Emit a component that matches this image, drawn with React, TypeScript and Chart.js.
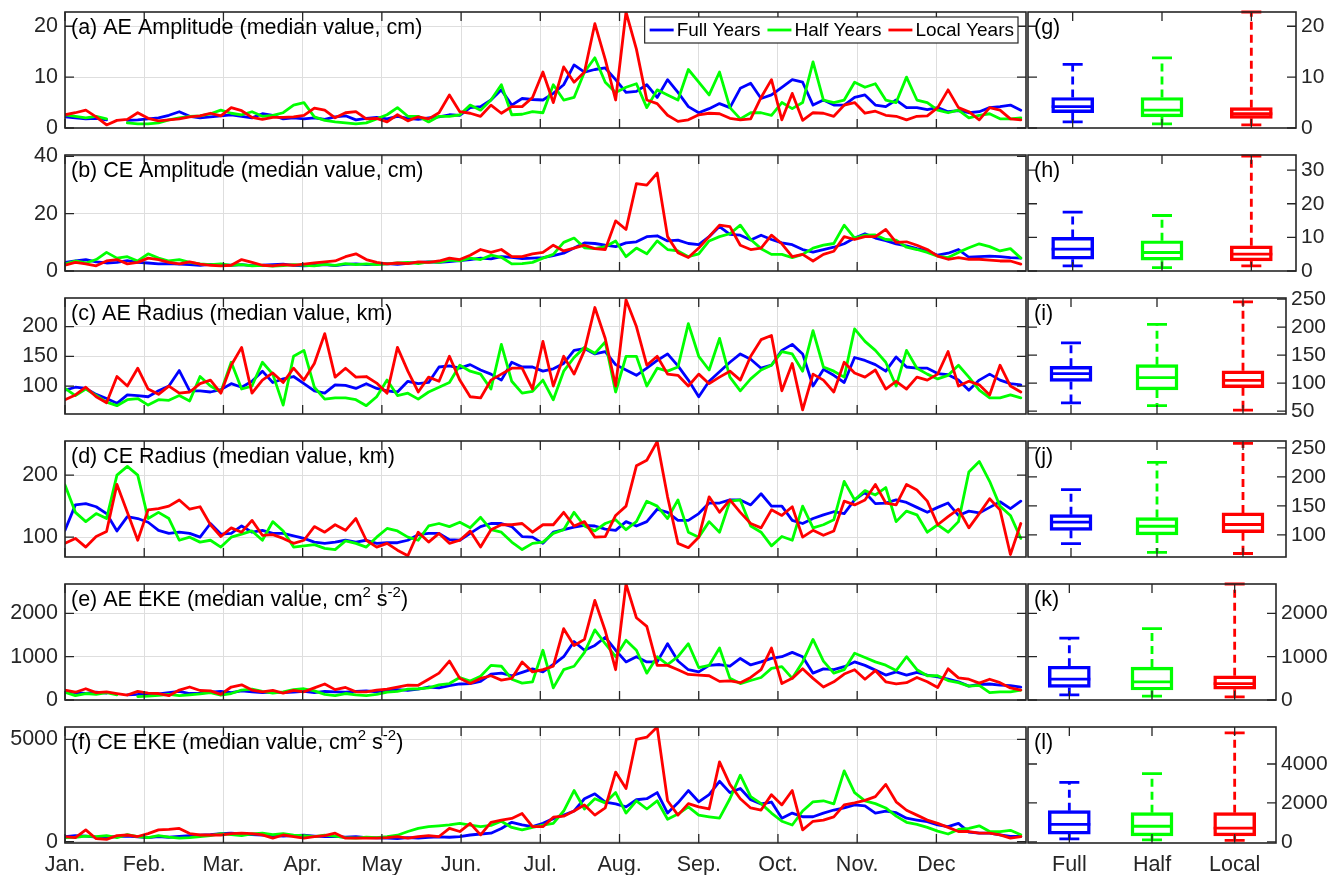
import React, { useEffect, useRef } from 'react';
import { Chart, registerables } from 'chart.js';

Chart.register(...registerables);

const FONT = '"Liberation Sans", Arial, Helvetica, sans-serif';
const BLUE = '#0000ff';
const GREEN = '#00ff00';
const RED = '#ff0000';
const AXIS = '#262626';
const GRID = '#dedede';
const TEXT_SIZE = 21.5;

// ---- time axis ----
const monthLabels = ['Jan.', 'Feb.', 'Mar.', 'Apr.', 'May', 'Jun.', 'Jul.', 'Aug.', 'Sep.', 'Oct.', 'Nov.', 'Dec'];
const monthTicks = [0, 30.5, 61, 91.5, 122, 152.5, 183, 213.5, 244, 274.5, 305, 335.5];
// one sample every 4 days
const sampleDays = Array.from({ length: 93 }, (_, i) => i * 4);

// ---- (a) AE amplitude, cm ----
const aeAmpFull = [2.2, 2.0, 1.8, 1.9, 1.6, null, 1.5, 1.6, 1.8, 2.0, 2.5, 3.2, 2.3, 2.0, 2.2, 2.4, 2.6, 2.3, 2.0, 2.8, 2.5, 1.8, 2.0, 1.8, 2.0, 1.7, 2.2, 2.4, 1.6, 1.9, 2.1, 1.8, 2.3, 1.9, 1.7, 2.0, 2.2, 2.6, 2.5, 4.0, 4.2, 5.5, 7.5, 4.5, 5.8, 5.6, 5.5, 6.8, 8.5, 12.4, 11.0, 11.5, 11.8, 9.5, 7.0, 7.2, 8.5, 6.0, 9.5, 7.0, 4.2, 3.0, 3.8, 4.8, 4.0, 7.8, 8.8, 5.8, 6.5, 8.0, 9.5, 9.0, 4.5, 5.5, 4.5, 4.5, 6.0, 6.5, 4.5, 4.2, 5.5, 4.0, 4.0, 3.6, 4.0, 3.2, 3.4, 3.0, 3.2, 4.0, 4.2, 4.5, 3.5];
const aeAmpHalf = [2.6, 2.3, 2.0, 2.3, 1.8, null, 1.0, 0.8, 0.8, 1.0, 1.6, 2.0, 2.3, 2.4, 2.8, 3.5, 2.9, 2.6, 3.2, 2.3, 2.5, 3.0, 4.5, 5.0, 2.2, 1.5, 1.2, 1.0, 0.8, 1.0, 1.8, 2.6, 4.0, 2.3, 2.3, 1.2, 2.3, 2.3, 2.6, 4.5, 3.5, 5.5, 8.5, 2.6, 2.7, 3.2, 3.0, 8.5, 5.5, 6.0, 11.0, 13.8, 9.0, 7.0, 8.0, 8.7, 4.0, 7.5, 6.5, 5.5, 11.5, 9.0, 6.5, 11.0, 4.0, 1.8, 3.0, 3.0, 2.5, 5.0, 3.8, 5.0, 13.0, 5.5, 5.0, 5.5, 9.0, 8.0, 8.7, 5.5, 5.0, 10.0, 5.5, 5.0, 3.5, 3.0, 3.5, 2.0, 2.5, 2.8, 1.8, 1.8, 2.0];
const aeAmpLocal = [2.6, 3.0, 3.5, 2.2, 0.6, 1.5, 1.7, 3.0, 1.9, 1.4, 1.6, 1.8, 2.2, 2.4, 2.9, 2.4, 4.0, 3.4, 2.1, 1.7, 2.1, 2.1, 2.2, 2.5, 3.9, 3.5, 2.0, 3.0, 3.2, 1.8, 1.9, 1.2, 2.6, 1.4, 2.2, 1.8, 3.0, 6.5, 3.2, 2.9, 2.3, 4.5, 2.9, 4.2, 4.2, 6.0, 11.0, 5.0, 12.0, 9.0, 11.0, 20.5, 13.5, 5.5, 22.8, 15.5, 5.5, 4.8, 2.5, 1.3, 1.6, 2.6, 2.9, 2.8, 1.9, 1.6, 1.8, 6.0, 9.5, 1.6, 6.8, 1.5, 3.0, 2.9, 2.3, 4.5, 5.0, 2.9, 3.3, 2.5, 2.3, 1.6, 2.3, 2.4, 4.0, 7.5, 4.0, 3.2, 1.6, 4.0, 3.5, 1.8, 1.6];

// ---- (b) CE amplitude, cm ----
const ceAmpFull = [3.0, 3.5, 4.0, 3.2, 2.8, 3.0, 3.6, 3.0, 2.8, 2.5, 2.6, 2.4, 2.2, 2.0, 2.3, 2.1, 2.0, 2.2, 1.9, 2.0, 2.2, 2.4, 2.0, 1.8, 2.0, 2.2, 1.9, 2.3, 2.5, 2.2, 2.4, 2.6, 2.3, 2.7, 3.0, 3.2, 3.0, 3.3, 3.6, 4.0, 4.5, 4.2, 5.0, 4.8, 4.3, 4.5, 4.7, 5.4, 6.2, 8.0, 9.8, 9.6, 9.0, 8.5, 9.8, 10.2, 12.0, 12.3, 10.5, 10.8, 9.6, 9.2, 12.0, 15.5, 12.8, 12.5, 10.8, 12.5, 11.0, 9.8, 9.2, 7.5, 6.6, 7.5, 8.3, 9.5, 11.5, 13.0, 11.5, 10.6, 9.5, 8.8, 7.8, 7.0, 5.5, 6.2, 7.5, 4.8, 5.0, 5.2, 5.0, 4.7, 4.5];
const ceAmpHalf = [2.5, 3.5, 2.8, 4.0, 6.5, 4.5, 5.0, 3.5, 6.0, 4.5, 3.5, 4.0, 3.0, 2.5, 2.2, 2.5, 2.0, 2.2, 1.8, 2.0, 1.7, 1.9, 2.2, 2.0, 1.8, 2.3, 2.0, 2.6, 2.2, 2.5, 2.2, 2.5, 2.8, 3.0, 2.6, 3.2, 3.0, 3.8, 3.5, 4.5, 4.0, 5.5, 4.8, 2.5, 2.6, 3.0, 4.5, 5.8, 10.0, 11.5, 8.1, 7.8, 8.5, 10.5, 5.0, 8.0, 6.0, 10.5, 7.5, 7.0, 5.0, 6.0, 10.5, 12.0, 13.0, 16.0, 11.0, 7.8, 5.8, 5.8, 4.7, 5.8, 8.0, 9.0, 9.6, 16.0, 11.5, 12.5, 12.6, 11.0, 10.8, 8.3, 7.5, 6.5, 5.2, 4.7, 6.5, 8.1, 9.5, 8.5, 7.0, 7.8, 4.5];
const ceAmpLocal = [2.0, 3.0, 2.5, 1.8, 3.5, 4.0, 2.5, 3.0, 4.5, 4.0, 3.0, 2.5, 3.2, 2.4, 2.0, 1.8, 2.0, 4.0, 3.0, 2.0, 1.8, 2.2, 2.0, 2.4, 2.8, 3.2, 3.5, 5.0, 6.0, 4.0, 3.0, 2.5, 2.8, 2.6, 3.2, 3.0, 3.5, 4.5, 4.0, 5.5, 7.5, 6.5, 7.5, 5.0, 5.0, 6.0, 6.5, 9.0, 7.0, 8.0, 9.0, 7.8, 7.5, 17.5, 14.5, 30.5, 30.0, 34.2, 12.0, 6.4, 4.7, 8.0, 12.0, 16.0, 15.5, 9.0, 7.5, 8.0, 12.5, 9.5, 5.0, 5.8, 3.5, 5.8, 6.9, 12.0, 11.0, 12.0, 12.0, 14.5, 10.0, 10.2, 9.0, 7.5, 5.2, 4.1, 4.7, 4.1, 4.1, 3.8, 3.5, 3.5, 2.4];

// ---- (c) AE radius, km ----
const aeRadFull = [93, 98, 96, 86, 79, 71, 85, 84, 82, 92, 100, 126, 92, 92, 90, 94, 104, 98, 108, 125, 106, 112, 116, 104, 92, 88, 102, 101, 96, 104, 96, 92, 90, 108, 104, 106, 132, 134, 130, 136, 127, 120, 110, 140, 132, 132, 125, 129, 138, 160, 163, 154, 158, 136, 127, 118, 130, 143, 154, 134, 110, 82, 108, 124, 140, 154, 145, 130, 135, 160, 170, 154, 100, 128, 118, 106, 148, 143, 136, 125, 149, 132, 130, 130, 121, 119, 110, 93, 110, 120, 110, 104, 102];
const aeRadHalf = [96, 84, 95, 84, 73, 67, 77, 79, 68, 77, 76, 84, 75, 116, 100, 90, 140, 95, 100, 140, 120, 68, 150, 160, 98, 78, 80, 80, 77, 67, 82, 110, 84, 88, 78, 90, 98, 106, 135, 125, 120, 95, 170, 108, 88, 91, 110, 77, 125, 148, 165, 155, 174, 90, 150, 150, 100, 130, 125, 132, 205, 150, 127, 180, 115, 92, 112, 127, 135, 158, 154, 125, 193, 132, 125, 115, 196, 175, 160, 140, 100, 160, 130, 120, 112, 118, 135, 115, 93, 80, 80, 85, 80];
const aeRadLocal = [77, 85, 98, 82, 72, 116, 100, 130, 95, 86, 100, 88, 90, 104, 110, 88, 135, 165, 88, 110, 122, 106, 130, 110, 138, 188, 115, 130, 115, 116, 105, 88, 165, 125, 90, 115, 108, 150, 110, 82, 80, 110, 120, 130, 130, 95, 175, 100, 150, 120, 160, 232, 180, 100, 245, 200, 135, 150, 120, 118, 100, 120, 104, 115, 125, 110, 150, 178, 185, 92, 138, 60, 120, 110, 90, 140, 122, 115, 127, 95, 108, 95, 115, 110, 120, 158, 100, 108, 102, 85, 135, 100, 90];

// ---- (d) CE radius, km ----
const ceRadFull = [111, 152, 154, 149, 138, 110, 133, 130, 124, 111, 106, 108, 106, 100, 122, 105, 106, 118, 108, 111, 106, 106, 102, 98, 92, 90, 92, 95, 92, 95, 90, 91, 91, 95, 104, 106, 106, 96, 95, 106, 117, 122, 122, 117, 101, 100, 90, 108, 112, 116, 119, 118, 113, 111, 125, 118, 125, 145, 140, 127, 127, 138, 155, 155, 160, 160, 152, 170, 150, 150, 127, 122, 130, 136, 141, 138, 160, 172, 154, 155, 160, 156, 148, 140, 148, 155, 135, 142, 139, 148, 157, 146, 158];
const ceRadHalf = [184, 140, 125, 138, 130, 200, 214, 200, 130, 140, 130, 95, 100, 92, 95, 84, 100, 105, 110, 95, 125, 110, 84, 86, 88, 82, 80, 94, 90, 84, 100, 114, 110, 100, 95, 118, 122, 117, 124, 115, 132, 112, 108, 92, 80, 90, 92, 106, 112, 140, 118, 110, 122, 128, 112, 125, 158, 150, 130, 160, 108, 100, 125, 108, 158, 160, 118, 108, 86, 101, 95, 150, 115, 120, 128, 190, 160, 175, 168, 180, 125, 142, 136, 108, 120, 108, 125, 205, 222, 190, 150, 135, 98];
const ceRadLocal = [90, 98, 84, 101, 109, 185, 140, 95, 144, 146, 150, 160, 145, 149, 120, 101, 115, 108, 127, 103, 104, 98, 90, 95, 117, 108, 120, 111, 130, 95, 84, 90, 79, 70, 108, 92, 106, 90, 95, 110, 84, 112, 120, 120, 122, 108, 120, 120, 140, 118, 125, 100, 101, 135, 150, 215, 224, 254, 165, 90, 83, 100, 165, 140, 160, 140, 122, 115, 144, 135, 149, 100, 111, 103, 110, 158, 152, 160, 185, 155, 152, 185, 176, 158, 120, 133, 145, 115, 138, 162, 144, 72, 122];

// ---- (e) AE EKE, cm^2 s^-2 ----
const aeEkeFull = [200, 170, 150, 180, 160, null, 120, 130, 150, 140, 170, 200, 150, 160, 180, 200, 170, 210, 190, 170, 180, 170, 180, 200, 170, 200, 190, 180, 200, 210, 190, 220, 240, 220, 250, 300, 280, 330, 370, 380, 430, 600, 620, 560, 640, 720, 650, 820, 1000, 1350, 1150, 1260, 1450, 1150, 880, 1000, 880, 880, 1300, 900, 700, 650, 800, 820, 780, 960, 810, 880, 960, 1000, 1100, 1000, 620, 720, 700, 770, 880, 800, 690, 575, 650, 575, 640, 575, 536, 480, 420, 320, 360, 370, 345, 330, 300];
const aeEkeHalf = [180, 100, 150, 130, 170, 120, null, 80, 90, 110, 130, 100, 120, 140, 170, 110, 150, 230, 250, 200, 160, 190, 240, 260, 210, 130, 100, 150, 120, 100, 130, 180, 200, 250, 260, 280, 350, 380, 520, 440, 550, 800, 780, 480, 390, 420, 1150, 280, 700, 780, 1100, 1620, 1300, 1000, 1380, 1150, 620, 1000, 820, 1000, 1300, 750, 800, 1200, 500, 380, 450, 520, 730, 770, 500, 880, 1400, 900, 620, 700, 1080, 980, 880, 805, 680, 1000, 700, 560, 560, 450, 400, 320, 340, 170, 190, 190, 230];
const aeEkeLocal = [230, 180, 260, 170, 190, 150, 115, 200, 160, 150, 100, 230, 300, 220, 210, 130, 300, 350, 230, 190, 220, 160, 220, 190, 280, 370, 240, 290, 190, 190, 230, 250, 300, 345, 340, 480, 620, 900, 500, 383, 498, 560, 460, 498, 880, 650, 700, 780, 1648, 1260, 1400, 2300, 1600, 700, 2680, 1900, 1700, 800, 800, 700, 590, 575, 560, 430, 440, 400, 520, 700, 1200, 380, 500, 720, 500, 300, 421, 600, 700, 480, 680, 420, 370, 400, 520, 421, 290, 720, 510, 480, 390, 480, 400, 280, 230];

// ---- (f) CE EKE, cm^2 s^-2 ----
const ceEkeFull = [250, 300, 280, 230, 220, 250, 280, 240, 200, 250, 220, 260, 300, 320, 350, 400, 420, 380, 350, 330, 300, 280, 300, 320, 280, 250, 260, 230, 250, 200, 190, 180, 160, 200, 180, 210, 240, 220, 256, 330, 380, 420, 650, 950, 820, 740, 900, 1130, 1300, 1500, 2100, 2340, 1940, 1850, 1700, 2050, 2100, 2400, 1400, 1900, 2500, 1950, 2300, 2950, 2400, 2600, 2050, 1850, 1940, 1150, 1400, 1220, 1220, 1400, 1550, 1650, 1800, 1750, 1400, 1500, 1420, 1150, 1060, 980, 820, 740, 900, 470, 417, 417, 340, 260, 256];
const ceEkeHalf = [200, 220, 280, 250, 300, 200, 350, 250, 200, 300, 230, 180, 200, 250, 300, 400, 350, 300, 380, 420, 350, 400, 320, 300, 250, 320, 280, 200, 180, 220, 200, 250, 320, 500, 650, 737, 780, 820, 900, 817, 737, 800, 1000, 700, 577, 700, 817, 900, 1500, 2500, 1600, 2100, 1900, 2400, 1400, 2000, 1600, 2000, 1100, 1350, 1700, 1300, 1220, 1150, 2100, 3250, 2200, 1860, 1400, 1000, 820, 1500, 1950, 2000, 1850, 3460, 2400, 2000, 1860, 1650, 1250, 950, 850, 700, 520, 380, 600, 657, 780, 497, 497, 560, 340];
const ceEkeLocal = [256, 200, 577, 150, 120, 300, 330, 256, 400, 577, 600, 650, 400, 330, 340, 330, 400, 420, 400, 337, 176, 330, 256, 176, 256, 300, 420, 176, 176, 176, 176, 200, 256, 176, 256, 300, 256, 657, 500, 897, 337, 950, 1058, 1140, 1378, 737, 737, 1200, 1250, 1500, 1800, 1300, 1650, 3400, 2600, 5000, 5100, 5597, 2000, 1300, 1860, 1700, 1600, 3900, 2800, 2100, 1650, 1550, 2300, 1800, 2500, 580, 1000, 1058, 1218, 1800, 1900, 2019, 2200, 2800, 1950, 1538, 1300, 1058, 900, 700, 500, 500, 420, 417, 340, 180, 256];

// ---- box-plot statistics: [lower whisker, Q1, median, Q3, upper whisker] ----
const boxCategories = ['Full', 'Half', 'Local'];
const aeAmpBoxes = [[1.2, 3.0, 4.2, 6.0, 12.5], [0.8, 2.2, 3.5, 6.0, 13.8], [0.6, 1.9, 2.8, 4.0, 22.8]];
const ceAmpBoxes = [[1.5, 3.5, 6.5, 10.0, 17.5], [1.0, 3.2, 5.5, 9.0, 16.5], [1.5, 3.0, 5.0, 7.5, 34.2]];
const aeRadBoxes = [[65, 103, 117, 130, 172], [60, 88, 110, 133, 205], [52, 92, 105, 122, 245]];
const ceRadBoxes = [[85, 108, 122, 135, 178], [70, 100, 115, 130, 225], [68, 104, 118, 138, 258]];
const aeEkeBoxes = [[120, 290, 480, 780, 1430], [90, 230, 420, 760, 1650], [70, 250, 380, 560, 2680]];
const ceEkeBoxes = [[150, 400, 900, 1600, 3050], [100, 300, 800, 1500, 3500], [80, 300, 700, 1500, 5600]];

type Seg = { t: string; sup?: boolean };
type Series = (number | null)[];

interface LineSpec {
  title: Seg[];
  yMin: number;
  yMax: number;
  yTicks: number[];
  full: Series;
  half: Series;
  local: Series;
  top: number;
  legend?: boolean;
  xLabels?: boolean;
}

interface BoxSpec {
  label: string;
  yMin: number;
  yMax: number;
  yTicks: number[];
  stats: number[][];
  top: number;
  right: number;
  xLabels?: boolean;
}

const PANEL_H = 116;
const LEFT_AXIS_W = 65;
const LEFT_RIGHT_EDGE = 1026;
const BOX_LEFT = 1028;
const PAD = 22;

const ekeTitle = (tag: string, name: string): Seg[] => [
  { t: `${tag} ${name} (median value, cm` },
  { t: '2', sup: true },
  { t: ' s' },
  { t: '-2', sup: true },
  { t: ')' },
];

const lineSpecs: LineSpec[] = [
  { title: [{ t: '(a) AE Amplitude (median value, cm)' }], yMin: 0, yMax: 22.8, yTicks: [0, 10, 20], full: aeAmpFull, half: aeAmpHalf, local: aeAmpLocal, top: 12, legend: true },
  { title: [{ t: '(b) CE Amplitude (median value, cm)' }], yMin: 0, yMax: 40.5, yTicks: [0, 20, 40], full: ceAmpFull, half: ceAmpHalf, local: ceAmpLocal, top: 155 },
  { title: [{ t: '(c) AE Radius (median value, km)' }], yMin: 53, yMax: 248, yTicks: [100, 150, 200], full: aeRadFull, half: aeRadHalf, local: aeRadLocal, top: 298 },
  { title: [{ t: '(d) CE Radius (median value, km)' }], yMin: 68, yMax: 255, yTicks: [100, 200], full: ceRadFull, half: ceRadHalf, local: ceRadLocal, top: 441 },
  { title: ekeTitle('(e)', 'AE EKE'), yMin: 0, yMax: 2680, yTicks: [0, 1000, 2000], full: aeEkeFull, half: aeEkeHalf, local: aeEkeLocal, top: 584 },
  { title: ekeTitle('(f)', 'CE EKE'), yMin: -60, yMax: 5600, yTicks: [0, 5000], full: ceEkeFull, half: ceEkeHalf, local: ceEkeLocal, top: 727, xLabels: true },
];

// box axes shrink on the right so that their tick labels stay inside the figure
const boxSpecs: BoxSpec[] = [
  { label: '(g)', yMin: 0, yMax: 22.8, yTicks: [0, 10, 20], stats: aeAmpBoxes, top: 12, right: 1296 },
  { label: '(h)', yMin: 0, yMax: 34.5, yTicks: [0, 10, 20, 30], stats: ceAmpBoxes, top: 155, right: 1296 },
  { label: '(i)', yMin: 45, yMax: 252, yTicks: [50, 100, 150, 200, 250], stats: aeRadBoxes, top: 298, right: 1286 },
  { label: '(j)', yMin: 62, yMax: 262, yTicks: [100, 150, 200, 250], stats: ceRadBoxes, top: 441, right: 1286 },
  { label: '(k)', yMin: 0, yMax: 2680, yTicks: [0, 1000, 2000], stats: aeEkeBoxes, top: 584, right: 1276 },
  { label: '(l)', yMin: -60, yMax: 5900, yTicks: [0, 2000, 4000], stats: ceEkeBoxes, top: 727, right: 1276, xLabels: true },
];

function drawRich(ctx: CanvasRenderingContext2D, segs: Seg[], x: number, y: number, size: number) {
  let cx = x;
  for (const s of segs) {
    const fs = s.sup ? Math.round(size * 0.68) : size;
    ctx.font = `${fs}px ${FONT}`;
    ctx.fillText(s.t, cx, s.sup ? y - size * 0.42 : y);
    cx += ctx.measureText(s.t).width;
  }
}

// Frame, inward tick marks, panel title and (optionally) the legend box
const framePlugin = {
  id: 'matlabFrame',
  afterDraw(chart: any, _args: any, opts: any) {
    const { ctx, chartArea } = chart;
    const { left, right, top, bottom } = chartArea;
    const xs = chart.scales.x;
    const ys = chart.scales.y;
    const tl = 9;
    ctx.save();
    ctx.strokeStyle = AXIS;
    ctx.lineWidth = 1.3;
    ctx.beginPath();
    xs.ticks.forEach((_t: any, i: number) => {
      const px = xs.getPixelForTick(i);
      ctx.moveTo(px, bottom);
      ctx.lineTo(px, bottom - tl);
      ctx.moveTo(px, top);
      ctx.lineTo(px, top + tl);
    });
    ys.ticks.forEach((_t: any, i: number) => {
      const py = ys.getPixelForTick(i);
      ctx.moveTo(left, py);
      ctx.lineTo(left + tl, py);
      ctx.moveTo(right, py);
      ctx.lineTo(right - tl, py);
    });
    ctx.stroke();
    ctx.lineWidth = 1.6;
    ctx.strokeRect(left, top, right - left, bottom - top);

    ctx.fillStyle = '#000';
    ctx.textBaseline = 'alphabetic';
    drawRich(ctx, opts.title, left + 6, top + 22, TEXT_SIZE);

    if (opts.legend) {
      const items = [
        { t: 'Full Years', c: BLUE },
        { t: 'Half Years', c: GREEN },
        { t: 'Local Years', c: RED },
      ];
      ctx.font = `19px ${FONT}`;
      const lineW = 24;
      const widths = items.map((it) => ctx.measureText(it.t).width);
      const total = 5 + widths.reduce((a, w) => a + lineW + 3 + w, 0) + 2 * 7 + 4;
      const bx = right - 8 - total;
      const by = top + 5;
      const bh = 26;
      ctx.fillStyle = '#fff';
      ctx.fillRect(bx, by, total, bh);
      ctx.lineWidth = 1.2;
      ctx.strokeStyle = AXIS;
      ctx.strokeRect(bx, by, total, bh);
      let cx = bx + 5;
      const cy = by + bh / 2;
      items.forEach((it, i) => {
        ctx.strokeStyle = it.c;
        ctx.lineWidth = 2.8;
        ctx.beginPath();
        ctx.moveTo(cx, cy);
        ctx.lineTo(cx + lineW, cy);
        ctx.stroke();
        cx += lineW + 3;
        ctx.fillStyle = '#000';
        ctx.textBaseline = 'middle';
        ctx.fillText(it.t, cx, cy + 1);
        cx += widths[i] + 7;
      });
    }
    ctx.restore();
  },
};

// Medians, dashed whiskers and whisker caps for the box panels
const boxPlugin = {
  id: 'boxWhiskers',
  afterDatasetsDraw(chart: any, _args: any, opts: any) {
    const { ctx } = chart;
    const xs = chart.scales.x;
    const ys = chart.scales.y;
    const colors = [BLUE, GREEN, RED];
    ctx.save();
    ctx.lineWidth = 2.8;
    opts.stats.forEach((st: number[], i: number) => {
      const [lo, q1, med, q3, hi] = st;
      const cx = xs.getPixelForTick(i);
      const half = 21;
      const cap = 10;
      ctx.strokeStyle = colors[i];
      ctx.beginPath();
      ctx.moveTo(cx - half, ys.getPixelForValue(med));
      ctx.lineTo(cx + half, ys.getPixelForValue(med));
      ctx.moveTo(cx - cap, ys.getPixelForValue(hi));
      ctx.lineTo(cx + cap, ys.getPixelForValue(hi));
      ctx.moveTo(cx - cap, ys.getPixelForValue(lo));
      ctx.lineTo(cx + cap, ys.getPixelForValue(lo));
      ctx.stroke();
      ctx.setLineDash([8, 5]);
      ctx.beginPath();
      ctx.moveTo(cx, ys.getPixelForValue(q3));
      ctx.lineTo(cx, ys.getPixelForValue(hi));
      ctx.moveTo(cx, ys.getPixelForValue(q1));
      ctx.lineTo(cx, ys.getPixelForValue(lo));
      ctx.stroke();
      ctx.setLineDash([]);
    });
    ctx.restore();
  },
};

const tickFont = { family: FONT, size: TEXT_SIZE };
const boxTickFont = { family: FONT, size: 21 };

function toPoints(s: Series) {
  return s.map((y, i) => ({ x: sampleDays[i], y }));
}

function LinePanel({ spec }: { spec: LineSpec }) {
  const ref = useRef<HTMLCanvasElement>(null);
  const xAxisH = spec.xLabels ? 34 : 0;
  const padBottom = spec.xLabels ? 0 : PAD;
  const W = LEFT_RIGHT_EDGE + 4;
  const H = PAD + PANEL_H + xAxisH + padBottom;
  useEffect(() => {
    const chart = new Chart(ref.current as HTMLCanvasElement, {
      type: 'line',
      data: {
        datasets: [
          { label: 'Local Years', data: toPoints(spec.local), borderColor: RED, order: 0 },
          { label: 'Half Years', data: toPoints(spec.half), borderColor: GREEN, order: 1 },
          { label: 'Full Years', data: toPoints(spec.full), borderColor: BLUE, order: 2 },
        ],
      } as any,
      options: {
        responsive: false,
        animation: false,
        devicePixelRatio: 1,
        layout: { padding: { left: 0, right: 4, top: PAD, bottom: padBottom } },
        elements: {
          line: { borderWidth: 2.8, tension: 0, borderJoinStyle: 'round', borderCapStyle: 'round' },
          point: { radius: 0 },
        },
        events: [],
        plugins: {
          legend: { display: false },
          tooltip: { enabled: false },
          matlabFrame: { title: spec.title, legend: !!spec.legend },
        } as any,
        scales: {
          x: {
            type: 'linear',
            min: 0,
            max: 370,
            afterBuildTicks: (s: any) => {
              s.ticks = monthTicks.map((v) => ({ value: v }));
            },
            afterFit: (s: any) => {
              s.height = xAxisH;
            },
            grid: { color: GRID, lineWidth: 1, drawTicks: false },
            border: { display: false },
            ticks: {
              display: !!spec.xLabels,
              autoSkip: false,
              maxRotation: 0,
              padding: 9,
              color: AXIS,
              font: tickFont,
              callback: (_v: any, i: number) => monthLabels[i],
            },
          },
          y: {
            type: 'linear',
            min: spec.yMin,
            max: spec.yMax,
            afterBuildTicks: (s: any) => {
              s.ticks = spec.yTicks.map((v) => ({ value: v }));
            },
            afterFit: (s: any) => {
              s.width = LEFT_AXIS_W;
            },
            grid: { color: GRID, lineWidth: 1, drawTicks: false },
            border: { display: false },
            ticks: {
              autoSkip: false,
              padding: 7,
              color: AXIS,
              font: tickFont,
              callback: (v: any) => String(v),
            },
          },
        },
      } as any,
      plugins: [framePlugin],
    });
    return () => chart.destroy();
  }, []);
  return (
    <canvas
      ref={ref}
      width={W}
      height={H}
      style={{ position: 'absolute', left: 0, top: spec.top - PAD, width: W, height: H }}
    />
  );
}

function BoxPanel({ spec }: { spec: BoxSpec }) {
  const ref = useRef<HTMLCanvasElement>(null);
  const xAxisH = spec.xLabels ? 34 : 0;
  const padBottom = spec.xLabels ? 0 : PAD;
  const canvasLeft = BOX_LEFT - 18;
  const W = 1330 - canvasLeft;
  const rightAxisW = 1330 - spec.right;
  const H = PAD + PANEL_H + xAxisH + padBottom;
  useEffect(() => {
    const chart = new Chart(ref.current as HTMLCanvasElement, {
      type: 'bar',
      data: {
        labels: boxCategories,
        datasets: [
          {
            data: spec.stats.map((s) => [s[1], s[3]]),
            backgroundColor: 'rgba(0,0,0,0)',
            borderColor: [BLUE, GREEN, RED],
            borderWidth: 2.8,
            borderSkipped: false,
            barThickness: 42,
          },
        ],
      } as any,
      options: {
        responsive: false,
        animation: false,
        devicePixelRatio: 1,
        events: [],
        layout: { padding: { left: 18, right: 0, top: PAD, bottom: padBottom } },
        plugins: {
          legend: { display: false },
          tooltip: { enabled: false },
          matlabFrame: { title: [{ t: spec.label }] },
          boxWhiskers: { stats: spec.stats },
        } as any,
        scales: {
          x: {
            type: 'category',
            afterFit: (s: any) => {
              s.height = xAxisH;
            },
            grid: { display: false, drawTicks: false },
            border: { display: false },
            ticks: { display: !!spec.xLabels, padding: 9, color: AXIS, font: tickFont },
          },
          y: {
            type: 'linear',
            position: 'right',
            min: spec.yMin,
            max: spec.yMax,
            afterBuildTicks: (s: any) => {
              s.ticks = spec.yTicks.map((v) => ({ value: v }));
            },
            afterFit: (s: any) => {
              s.width = rightAxisW;
            },
            grid: { display: false, drawTicks: false },
            border: { display: false },
            ticks: {
              autoSkip: false,
              padding: 5,
              color: AXIS,
              font: boxTickFont,
              callback: (v: any) => String(v),
            },
          },
        },
      } as any,
      plugins: [boxPlugin, framePlugin],
    });
    return () => chart.destroy();
  }, []);
  return (
    <canvas
      ref={ref}
      width={W}
      height={H}
      style={{ position: 'absolute', left: canvasLeft, top: spec.top - PAD, width: W, height: H }}
    />
  );
}

export default function App() {
  useEffect(() => {
    document.body.style.margin = '0';
  }, []);
  return (
    <div style={{ position: 'relative', width: 1330, height: 875, background: '#fff', overflow: 'hidden' }}>
      {lineSpecs.map((s, i) => (
        <LinePanel key={`l${i}`} spec={s} />
      ))}
      {boxSpecs.map((s, i) => (
        <BoxPanel key={`b${i}`} spec={s} />
      ))}
    </div>
  );
}
